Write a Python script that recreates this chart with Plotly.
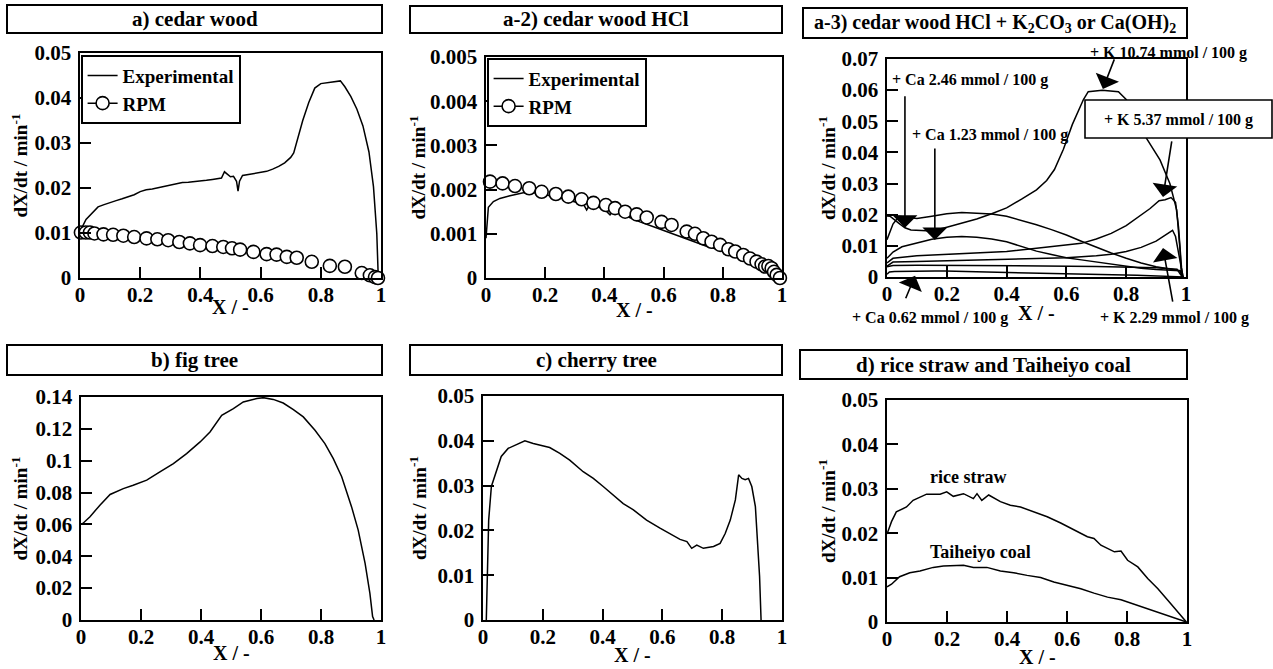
import plotly.graph_objects as go

W, H = 1273, 669
FAM = "Liberation Serif"

# ---------------- data ----------------
x_tick_vals = [0, 0.2, 0.4, 0.6, 0.8, 1.0]
x_tick_text = ["0", "0.2", "0.4", "0.6", "0.8", "1"]

y_ticks_005 = [0, 0.01, 0.02, 0.03, 0.04, 0.05]
y_text_005 = ["0", "0.01", "0.02", "0.03", "0.04", "0.05"]
y_ticks_0005 = [0, 0.001, 0.002, 0.003, 0.004, 0.005]
y_text_0005 = ["0", "0.001", "0.002", "0.003", "0.004", "0.005"]
y_ticks_007 = [0, 0.01, 0.02, 0.03, 0.04, 0.05, 0.06, 0.07]
y_text_007 = ["0", "0.01", "0.02", "0.03", "0.04", "0.05", "0.06", "0.07"]
y_ticks_014 = [0, 0.02, 0.04, 0.06, 0.08, 0.1, 0.12, 0.14]
y_text_014 = ["0", "0.02", "0.04", "0.06", "0.08", "0.1", "0.12", "0.14"]

# a) cedar wood
a_exp_x = [0.0, 0.005, 0.02, 0.04, 0.06, 0.08, 0.1, 0.12, 0.14, 0.16, 0.18, 0.2, 0.22, 0.24,
           0.26, 0.28, 0.3, 0.32, 0.34, 0.36, 0.38, 0.4, 0.42, 0.44, 0.46, 0.47, 0.48, 0.49,
           0.5, 0.51, 0.52, 0.525, 0.53, 0.54, 0.56, 0.58, 0.6, 0.62, 0.64, 0.66, 0.68, 0.7,
           0.71, 0.74, 0.76, 0.78, 0.8, 0.84, 0.865, 0.88, 0.9, 0.92, 0.94, 0.96, 0.975,
           0.986, 0.991]
a_exp_y = [0.0095, 0.0110, 0.0130, 0.0145, 0.0158, 0.0163, 0.0168, 0.0172, 0.0176, 0.0181,
           0.0185, 0.0192, 0.0196, 0.0198, 0.0201, 0.0204, 0.0207, 0.0209, 0.0212, 0.0213,
           0.0214, 0.0216, 0.0217, 0.0219, 0.0220, 0.0222, 0.0236, 0.0230, 0.0225, 0.0226,
           0.0215, 0.0193, 0.0215, 0.0228, 0.0230, 0.0232, 0.0235, 0.0237, 0.0242, 0.0248,
           0.0256, 0.0268, 0.0278, 0.0350, 0.0390, 0.0422, 0.0432, 0.0435, 0.0438, 0.0425,
           0.0403, 0.0375, 0.0338, 0.0280, 0.0203, 0.0099, 0.0]
a_rpm_x = [0.003, 0.019, 0.033, 0.048, 0.078, 0.11, 0.144, 0.18, 0.221, 0.257, 0.293, 0.33,
           0.365, 0.399, 0.44, 0.476, 0.505, 0.532, 0.576, 0.62, 0.653, 0.687, 0.72, 0.77,
           0.83, 0.88, 0.936, 0.963, 0.98, 0.99]
a_rpm_y = [0.0101, 0.0101, 0.0101, 0.0099, 0.0097, 0.0096, 0.0094, 0.0091, 0.0088, 0.0086,
           0.0084, 0.0080, 0.0077, 0.0073, 0.0071, 0.0069, 0.0066, 0.0063, 0.0058, 0.0053,
           0.0052, 0.0047, 0.0045, 0.0036, 0.0027, 0.0025, 0.0011, 0.0006, 0.0002, 0.0]

# a-2) cedar wood HCl
a2_exp_x = [0.0, 0.003, 0.008, 0.025, 0.047, 0.081, 0.126, 0.16, 0.194, 0.227, 0.261, 0.295,
            0.329, 0.34, 0.35, 0.396, 0.419, 0.43, 0.475, 0.52, 0.566, 0.61, 0.655, 0.7, 0.745,
            0.79, 0.836, 0.881, 0.926, 0.96, 0.982, 0.993]
a2_exp_y = [0.0009, 0.0012, 0.0016, 0.00173, 0.0018, 0.00186, 0.00193, 0.00193, 0.0019,
            0.00184, 0.0018, 0.00173, 0.00167, 0.00154, 0.00165, 0.00158, 0.00143, 0.00152,
            0.00139, 0.00127, 0.00116, 0.00105, 0.00094, 0.00084, 0.00072, 0.00063, 0.00054,
            0.00044, 0.00033, 0.00022, 0.0001, 0.0]
a2_rpm_x = [0.0135, 0.056, 0.098, 0.146, 0.188, 0.236, 0.278, 0.323, 0.363, 0.405, 0.436,
            0.47, 0.509, 0.543, 0.593, 0.627, 0.678, 0.706, 0.734, 0.762, 0.791, 0.819, 0.842,
            0.869, 0.892, 0.914, 0.931, 0.943, 0.954, 0.965, 0.973, 0.982, 0.993]
a2_rpm_y = [0.00218, 0.00214, 0.00208, 0.00203, 0.00195, 0.0019, 0.00184, 0.00178, 0.0017,
            0.00165, 0.00158, 0.0015, 0.00144, 0.00137, 0.00127, 0.0012, 0.00105, 0.001,
            0.0009, 0.00082, 0.00075, 0.00065, 0.0006, 0.00052, 0.00044, 0.00037, 0.00031,
            0.00026, 0.00027, 0.00022, 0.00014, 0.00007, 0.0]

# a-3) cedar wood HCl + K2CO3 or Ca(OH)2
k1074_x = [0.0, 0.01, 0.04, 0.06, 0.08, 0.1, 0.15, 0.2, 0.25, 0.3, 0.35, 0.4, 0.45, 0.5, 0.534,
           0.56, 0.59, 0.62, 0.657, 0.673, 0.72, 0.774, 0.8, 0.83, 0.868, 0.913, 0.946, 0.969,
           0.98, 0.985]
k1074_y = [0.0196, 0.0195, 0.0172, 0.0158, 0.0151, 0.0150, 0.0148, 0.0160, 0.0172, 0.0186,
           0.0203, 0.0222, 0.0250, 0.0280, 0.0310, 0.0345, 0.0410, 0.0490, 0.0570, 0.0595,
           0.0600, 0.0595, 0.0570, 0.0520, 0.0445, 0.0376, 0.0300, 0.0215, 0.0087, 0.0]
ca246_x = [0.0, 0.02, 0.04, 0.06, 0.1, 0.15, 0.2, 0.25, 0.3, 0.35, 0.4, 0.45, 0.5, 0.55, 0.6,
           0.65, 0.7, 0.75, 0.8, 0.85, 0.9, 0.95, 0.98, 0.99]
ca246_y = [0.0120, 0.0170, 0.0195, 0.0192, 0.0188, 0.0195, 0.0203, 0.0207, 0.0205, 0.0202,
           0.0195, 0.0182, 0.0168, 0.0152, 0.0135, 0.0115, 0.0095, 0.0077, 0.0060, 0.0045,
           0.0033, 0.0025, 0.0020, 0.0]
ca123_x = [0.0, 0.02, 0.05, 0.1, 0.15, 0.2, 0.25, 0.3, 0.35, 0.4, 0.45, 0.5, 0.55, 0.6, 0.65,
           0.7, 0.75, 0.8, 0.85, 0.9, 0.95, 0.98, 0.99]
ca123_y = [0.0060, 0.0080, 0.0097, 0.0110, 0.0121, 0.0128, 0.0130, 0.0128, 0.0122, 0.0113,
           0.0098, 0.0083, 0.0072, 0.0062, 0.0055, 0.0048, 0.0040, 0.0033, 0.0028, 0.0024,
           0.0022, 0.0020, 0.0]
k537_x = [0.0, 0.02, 0.1, 0.2, 0.3, 0.4, 0.5, 0.6, 0.65, 0.7, 0.75, 0.8, 0.85, 0.88, 0.91,
          0.93, 0.95, 0.965, 0.975, 0.985, 0.99]
k537_y = [0.0045, 0.0060, 0.0068, 0.0073, 0.0077, 0.0082, 0.0092, 0.0103, 0.0108, 0.0122,
          0.0140, 0.0165, 0.0200, 0.0220, 0.0245, 0.0248, 0.0255, 0.0240, 0.0160, 0.0030, 0.0]
k229_x = [0.0, 0.02, 0.1, 0.2, 0.3, 0.4, 0.5, 0.6, 0.7, 0.75, 0.8, 0.85, 0.9, 0.93, 0.955,
          0.965, 0.975, 0.985, 0.99]
k229_y = [0.0035, 0.0048, 0.0050, 0.0052, 0.0054, 0.0056, 0.0058, 0.0062, 0.0068, 0.0073,
          0.0082, 0.0095, 0.0115, 0.0133, 0.0150, 0.0130, 0.0080, 0.0020, 0.0]
ca062_x = [0.0, 0.02, 0.1, 0.3, 0.5, 0.7, 0.9, 0.95, 0.97, 0.98, 0.99]
ca062_y = [0.0033, 0.0037, 0.0038, 0.0037, 0.0036, 0.0034, 0.0030, 0.0028, 0.0025, 0.0010, 0.0]

# b) fig tree
b_x = [0.0, 0.006, 0.03, 0.063, 0.097, 0.141, 0.174, 0.219, 0.263, 0.308, 0.352, 0.397, 0.43,
       0.469, 0.508, 0.541, 0.586, 0.608, 0.641, 0.674, 0.708, 0.741, 0.78, 0.813, 0.841,
       0.869, 0.902, 0.924, 0.947, 0.963, 0.972, 0.977]
b_y = [0.0600, 0.0606, 0.0648, 0.0721, 0.0788, 0.0825, 0.0846, 0.0878, 0.0930, 0.0982, 0.1045,
       0.1118, 0.1180, 0.1285, 0.1327, 0.1369, 0.1390, 0.1396, 0.1385, 0.1362, 0.1321, 0.1275,
       0.1191, 0.1107, 0.1013, 0.0899, 0.0710, 0.0564, 0.0355, 0.0167, 0.0021, 0.0]

# c) cherry tree
c_x = [0.011, 0.0145, 0.019, 0.028, 0.045, 0.061, 0.084, 0.112, 0.14, 0.168, 0.201, 0.223,
       0.257, 0.29, 0.335, 0.369, 0.402, 0.436, 0.469, 0.503, 0.547, 0.592, 0.626, 0.659,
       0.682, 0.698, 0.715, 0.737, 0.771, 0.793, 0.81, 0.827, 0.844, 0.855, 0.866, 0.877,
       0.888, 0.899, 0.911, 0.918, 0.925, 0.93]
c_y = [0.0, 0.0126, 0.0223, 0.0298, 0.0335, 0.0365, 0.0383, 0.0392, 0.0400, 0.0394, 0.0388,
       0.0385, 0.0372, 0.0357, 0.0331, 0.0316, 0.0298, 0.0279, 0.0260, 0.0246, 0.0223, 0.0205,
       0.0193, 0.0180, 0.0175, 0.0160, 0.0167, 0.0160, 0.0164, 0.0171, 0.0193, 0.0223, 0.0268,
       0.0324, 0.0316, 0.0313, 0.0316, 0.0298, 0.0253, 0.0186, 0.0097, 0.0]

# d) rice straw and Taiheiyo coal
rice_x = [0.0, 0.015, 0.031, 0.065, 0.087, 0.11, 0.132, 0.177, 0.199, 0.221, 0.255, 0.288,
          0.3, 0.316, 0.339, 0.378, 0.411, 0.445, 0.489, 0.534, 0.579, 0.623, 0.668, 0.69,
          0.713, 0.758, 0.78, 0.802, 0.836, 0.869, 0.903, 0.936, 0.97, 0.998]
rice_y = [0.0198, 0.0226, 0.0248, 0.0259, 0.0274, 0.0282, 0.0288, 0.0288, 0.0293, 0.0283,
          0.0289, 0.0278, 0.0289, 0.0274, 0.0286, 0.0271, 0.0263, 0.0259, 0.0248, 0.0237,
          0.0223, 0.0207, 0.0192, 0.0188, 0.0173, 0.0158, 0.0160, 0.0139, 0.0124, 0.0098,
          0.0075, 0.0049, 0.0023, 0.0]
coal_x = [0.0, 0.015, 0.042, 0.076, 0.11, 0.154, 0.188, 0.221, 0.255, 0.288, 0.333, 0.378,
          0.422, 0.467, 0.512, 0.556, 0.601, 0.646, 0.69, 0.735, 0.78, 0.825, 0.869, 0.914,
          0.959, 0.998]
coal_y = [0.0079, 0.0085, 0.0102, 0.0111, 0.0115, 0.0123, 0.0126, 0.0127, 0.0128, 0.0123,
          0.0123, 0.0115, 0.0111, 0.0105, 0.0100, 0.0090, 0.0083, 0.0075, 0.0065, 0.0056,
          0.0050, 0.0040, 0.0030, 0.0019, 0.0010, 0.0]

# ---------------- layout helpers ----------------
def fx(p):
    return p / W

def fy(p):
    return 1 - p / H

def font(size):
    return dict(family=FAM, color="black", weight="bold", size=size)

# plot boxes in pixels: left, right, top, bottom
boxes = [
    (80, 381, 53, 278),
    (486, 782, 57, 278),
    (887, 1186, 59, 277),
    (81, 381, 397, 620),
    (483, 782, 396, 620),
    (887, 1187, 400, 622),
]
yranges = [0.05, 0.005, 0.07, 0.14, 0.05, 0.05]
yticks = [(y_ticks_005, y_text_005), (y_ticks_0005, y_text_0005), (y_ticks_007, y_text_007),
          (y_ticks_014, y_text_014), (y_ticks_005, y_text_005), (y_ticks_005, y_text_005)]

fig = go.Figure()
layout = dict(width=W, height=H, margin=dict(l=0, r=0, t=0, b=0, autoexpand=False),
              paper_bgcolor="white", plot_bgcolor="white", font=font(20))

for i, (l, r, t, b) in enumerate(boxes):
    n = "" if i == 0 else str(i + 1)
    tv, tt = yticks[i]
    layout["xaxis" + n] = dict(
        domain=[fx(l), fx(r)], range=[0, 1], anchor="y" + n,
        tickvals=x_tick_vals, ticktext=x_tick_text, ticks="inside", ticklen=11,
        tickwidth=2, tickcolor="black", showline=True, linecolor="black", linewidth=1.6,
        mirror=True, showgrid=False, zeroline=False, tickfont=font(21),
        ticklabelstandoff=-3, fixedrange=True)
    layout["yaxis" + n] = dict(
        domain=[fy(b), fy(t)], range=[0, yranges[i]], anchor="x" + n,
        tickvals=tv, ticktext=tt, ticks="inside", ticklen=11,
        tickwidth=2, tickcolor="black", showline=True, linecolor="black", linewidth=1.6,
        mirror=True, showgrid=False, zeroline=False, tickfont=font(21),
        ticklabelstandoff=3, fixedrange=True)

LINE = dict(color="black", width=1.5)
MARK = dict(symbol="circle", size=13, color="white", line=dict(color="black", width=1.6))

def add_line(x, y, ax, name=None, legend=None):
    fig.add_trace(go.Scatter(x=x, y=y, mode="lines", line=LINE, xaxis="x" + ax,
                             yaxis="y" + ax, name=name or "", showlegend=name is not None,
                             legend=legend or "legend", cliponaxis=False, hoverinfo="skip"))

def add_rpm(x, y, ax, legend):
    fig.add_trace(go.Scatter(x=x, y=y, mode="markers", marker=MARK, xaxis="x" + ax,
                             yaxis="y" + ax, showlegend=False, cliponaxis=False,
                             hoverinfo="skip"))
    fig.add_trace(go.Scatter(x=[None], y=[None], mode="lines+markers", marker=MARK,
                             line=dict(color="black", width=1.5), xaxis="x" + ax,
                             yaxis="y" + ax, name="RPM", legend=legend, showlegend=True))

# a
add_line(a_exp_x, a_exp_y, "", "Experimental", "legend")
add_rpm(a_rpm_x, a_rpm_y, "", "legend")
# a-2
add_line(a2_exp_x, a2_exp_y, "2", "Experimental", "legend2")
add_rpm(a2_rpm_x, a2_rpm_y, "2", "legend2")
# a-3
for xs, ys in [(k1074_x, k1074_y), (ca246_x, ca246_y), (ca123_x, ca123_y), (k537_x, k537_y),
               (k229_x, k229_y), (ca062_x, ca062_y), (a2_exp_x, a2_exp_y)]:
    add_line(xs, ys, "3")
# b, c, d
add_line(b_x, b_y, "4")
add_line(c_x, c_y, "5")
add_line(rice_x, rice_y, "6")
add_line(coal_x, coal_y, "6")

leg_common = dict(xanchor="left", yanchor="top", bordercolor="black", borderwidth=1.6,
                  bgcolor="white", font=font(19), itemwidth=30, tracegroupgap=0,
                  traceorder="normal")
layout["legend"] = dict(x=fx(81), y=fy(55), **leg_common)
layout["legend2"] = dict(x=fx(487), y=fy(58), **leg_common)

shapes = []
annotations = []

# title boxes
titles = [
    ("a) cedar wood", 7, 382, 5, 33, 21),
    ("a-2) cedar wood HCl", 410, 782, 6, 33, 21),
    ("a-3) cedar wood HCl + K<sub>2</sub>CO<sub>3</sub> or Ca(OH)<sub>2</sub>", 803, 1187, 8, 38, 20),
    ("b) fig tree", 7, 382, 345, 375, 21),
    ("c) cherry tree", 410, 782, 345, 375, 21),
    ("d) rice straw and Taiheiyo coal", 800, 1187, 350, 379, 21),
]
for txt, l, r, t, b, fs in titles:
    shapes.append(dict(type="rect", xref="paper", yref="paper", x0=fx(l), x1=fx(r),
                       y0=fy(b), y1=fy(t), line=dict(color="black", width=2),
                       fillcolor="white", layer="below"))
    annotations.append(dict(text=txt, xref="paper", yref="paper", x=fx((l + r) / 2),
                            y=fy((t + b) / 2), showarrow=False, font=font(fs),
                            xanchor="center", yanchor="middle"))

# axis titles
ylab_x = [20, 417, 827, 19, 418, 827]
xlab_y = [307, 310, 313, 653, 655, 657]
for i, (l, r, t, b) in enumerate(boxes):
    annotations.append(dict(text="dX/dt / min<sup>-1</sup>", xref="paper", yref="paper",
                            x=fx(ylab_x[i]), y=fy((t + b) / 2), textangle=-90,
                            showarrow=False, font=font(19), xanchor="center",
                            yanchor="middle"))
    annotations.append(dict(text="X / -", xref="paper", yref="paper", x=fx((l + r) / 2),
                            y=fy(xlab_y[i]), showarrow=False, font=font(20),
                            xanchor="center", yanchor="middle"))

# a-3 labels (text)
a3_labels = [
    ("+ Ca 2.46 mmol / 100 g", 890, 80, "left"),
    ("+ Ca 1.23 mmol / 100 g", 910, 135, "left"),
    ("+ K 10.74 mmol / 100 g", 1088, 53, "left"),
    ("+ K 5.37 mmol / 100 g", 1178, 120, "center"),
    ("+ K 2.29 mmol / 100 g", 1098, 318, "left"),
    ("+ Ca 0.62 mmol / 100 g", 850, 318, "left"),
]
shapes.append(dict(type="rect", xref="paper", yref="paper", x0=fx(1085), x1=fx(1272),
                   y0=fy(138), y1=fy(100), line=dict(color="black", width=1.6),
                   fillcolor="white", layer="above"))
for txt, px, py, anc in a3_labels:
    annotations.append(dict(text=txt, xref="paper", yref="paper", x=fx(px), y=fy(py),
                            showarrow=False, font=font(16), xanchor=anc, yanchor="middle"))

# a-3 arrows: tip in data coords, tail as pixel offset
a3_arrows = [
    (0.06, 0.0158, 0, -133),
    (0.16, 0.0119, 0, -93),
    (0.722, 0.0604, 12, -31),
    (0.923, 0.0257, 9, -57),
    (0.923, 0.0093, 10, 55),
    (0.094, 0.0004, -10, 24),
]
for xt, yt, axp, ayp in a3_arrows:
    annotations.append(dict(text="", x=xt, y=yt, xref="x3", yref="y3", ax=axp, ay=ayp,
                            showarrow=True, arrowhead=1, arrowsize=2.6, arrowwidth=1.6,
                            arrowcolor="black"))

# d labels
annotations.append(dict(text="rice straw", xref="paper", yref="paper", x=fx(968), y=fy(477),
                        showarrow=False, font=font(18), xanchor="center", yanchor="middle"))
annotations.append(dict(text="Taiheiyo coal", xref="paper", yref="paper", x=fx(981),
                        y=fy(552), showarrow=False, font=font(18), xanchor="center",
                        yanchor="middle"))

layout["shapes"] = shapes
layout["annotations"] = annotations
fig.update_layout(**layout)

fig.write_html("out.html", config={"displayModeBar": False, "staticPlot": True},
               post_script="document.body.style.margin='0';document.body.style.overflow='hidden';")
